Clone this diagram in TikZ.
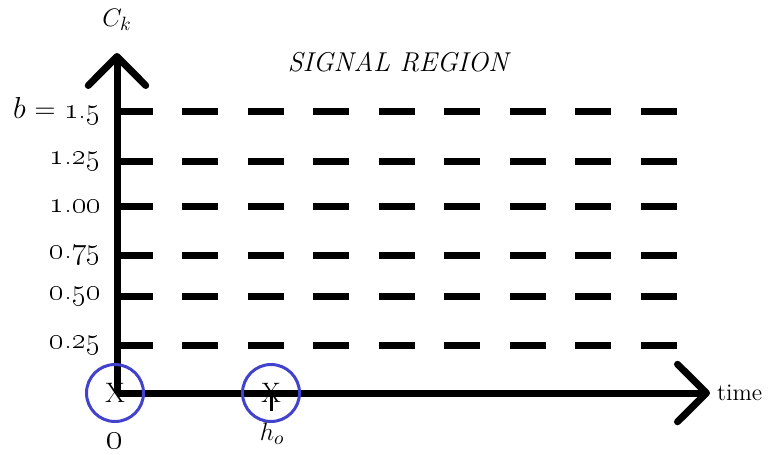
\documentclass[tikz,border=0pt]{standalone}
\usetikzlibrary{arrows.meta}
\definecolor{ringblue}{RGB}{66,66,204}

\begin{document}
\begin{tikzpicture}[x=0.02cm,y=-0.02cm,
    axis/.style={line width=0.14cm,-{Straight Barb[length=0.58cm,width=1.15cm,round]}},
    level/.style={line width=0.14cm,dash pattern=on 0.72cm off 0.59cm},
    ring/.style={draw=ringblue,line width=0.06cm,circle,minimum size=1.14cm,inner sep=0pt,
      font=\fontsize{16}{16}\selectfont},
    ticklab/.style={anchor=east,inner sep=0pt,font=\fontsize{16.5}{18}\selectfont}]
    \useasboundingbox (0,0) rectangle (768,454);
    \coordinate (origin) at (117,393);
    \coordinate (ytip) at (117,53);
    \coordinate (xtip) at (710,393);
    % levels of c_k
    \foreach \yy/\lab in {111/{$b$ = \oldstylenums{1.5}},161/\oldstylenums{1.25},206/\oldstylenums{1.00},
        255/\oldstylenums{0.75},296/\oldstylenums{0.50},345/\oldstylenums{0.25}} {
      \node[ticklab] (lab\yy) at (101,\yy) {\lab};
      \draw[level] (origin |- lab\yy) -- ++(561,0);
    }
    \draw[axis] (origin) -- (ytip);
    \draw[axis] (origin) -- (xtip);
    \node[font=\fontsize{15}{17}\selectfont] (ck) at (117,20) {$C_k$};
    \node[font=\fontsize{15.5}{18}\itshape] (region) at (398,62) {SIGNAL REGION};
    \node[anchor=west,inner sep=1pt,font=\fontsize{13.5}{16}\selectfont] (time) at (xtip) [xshift=0.1cm] {time};
    % the two points on the time axis
    \node[ring] (zero) at (115,393) {X};
    \draw[line width=0.06cm] (271,393) -- ++(0,18);
    \node[ring] (hzero) at (271,393) {X};
    \node[font=\fontsize{21}{23}\selectfont] (zerolab) at (115,441) {\oldstylenums{0}};
    \node[font=\fontsize{15}{17}\selectfont] (hlab) at (272,434) {$h_o$};
\end{tikzpicture}
\end{document}
